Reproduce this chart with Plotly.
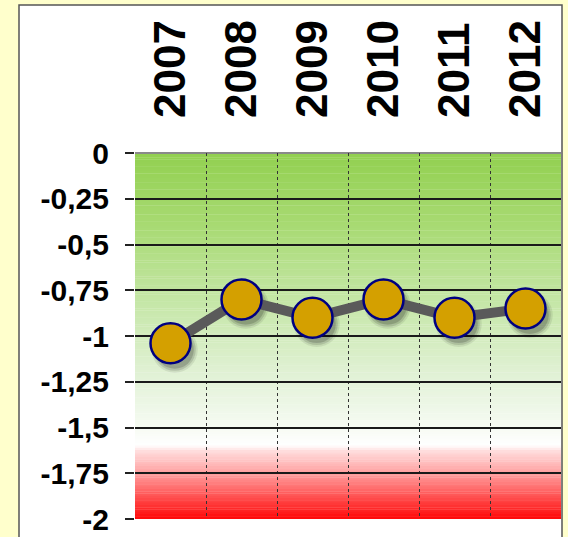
import plotly.graph_objects as go

years = ["2007", "2008", "2009", "2010", "2011", "2012"]
values = [-1.04, -0.80, -0.90, -0.80, -0.90, -0.85]
y_ticks = [0, -0.25, -0.5, -0.75, -1, -1.25, -1.5, -1.75, -2]
y_tick_labels = ["0", "-0,25", "-0,5", "-0,75", "-1", "-1,25", "-1,5", "-1,75", "-2"]

W, H = 568, 537
ML, MR, MT, MB = 135, 7, 153, 18
pw, ph = W - ML - MR, H - MT - MB

xs = list(range(len(years)))

# background gradient stops (value, rgb)
stops = [
    (0.0, (146, 208, 80)),
    (-0.4, (168, 218, 115)),
    (-0.8, (196, 230, 165)),
    (-1.2, (224, 241, 212)),
    (-1.5, (246, 251, 243)),
    (-1.6, (255, 255, 255)),
    (-1.63, (255, 222, 222)),
    (-1.75, (255, 160, 160)),
    (-2.0, (255, 8, 8)),
]

def col_at(v):
    for (a, ca), (b, cb) in zip(stops[:-1], stops[1:]):
        if b <= v <= a:
            t = (a - v) / (a - b) if a != b else 0
            c = [round(ca[i] + (cb[i] - ca[i]) * t) for i in range(3)]
            return f"rgb({c[0]},{c[1]},{c[2]})"
    return "white"

shapes = []
# white panel
shapes.append(dict(type="rect", xref="paper", yref="paper",
                   x0=(19 - ML) / pw, x1=(562 - ML) / pw,
                   y0=(H - 560 - MB) / ph, y1=(H - 5 - MB) / ph,
                   fillcolor="white", line=dict(color="#555555", width=1.5),
                   layer="below"))
N = 160
for i in range(N):
    y1 = -2.0 * i / N
    y0 = -2.0 * (i + 1) / N
    shapes.append(dict(type="rect", xref="paper", yref="y", x0=0, x1=1,
                       y0=y0, y1=y1 + 0.002, fillcolor=col_at((y0 + y1) / 2),
                       line=dict(width=0), layer="below"))
# grey top edge of the plot area
shapes.append(dict(type="line", xref="paper", yref="paper", x0=0, x1=1, y0=1, y1=1,
                   line=dict(color="#8a8a8a", width=2), layer="between"))

fig = go.Figure()
# soft shadow
for k, (sz, op) in enumerate([(46, 0.08), (42, 0.12), (38, 0.16)]):
    fig.add_trace(go.Scatter(x=[x + 0.06 for x in xs], y=[v - 0.035 for v in values],
                             mode="markers", hoverinfo="skip", showlegend=False,
                             marker=dict(size=sz, color=f"rgba(0,0,0,{op})", line=dict(width=0))))
fig.add_trace(go.Scatter(x=xs, y=values, mode="lines+markers", showlegend=False,
                         line=dict(color="rgb(90,90,90)", width=10),
                         marker=dict(size=40, color="rgb(212,160,0)",
                                     line=dict(color="rgb(0,0,128)", width=2.5))))

font = dict(family="Liberation Sans, Arial, sans-serif", color="black", weight=700)

fig.update_layout(
    width=W, height=H,
    margin=dict(l=ML, r=MR, t=MT, b=MB, pad=0, autoexpand=False),
    paper_bgcolor="rgb(255,255,204)",
    plot_bgcolor="rgba(0,0,0,0)",
    shapes=shapes,
    showlegend=False,
    xaxis=dict(range=[-0.5, 5.5], side="top", tickmode="array", tickvals=xs, ticktext=years,
               tickangle=-90, tickfont=dict(size=44, **font), ticks="", showgrid=False,
               zeroline=False, ticklabelstandoff=34, ticklabeloverflow="allow", automargin=False,
               minor=dict(tickmode="array", tickvals=[x - 0.5 for x in xs] + [5.5],
                          showgrid=True, gridcolor="#333333", gridwidth=1, griddash="dot", ticks=""),
               showline=False, fixedrange=True),
    yaxis=dict(range=[-2, 0], tickmode="array", tickvals=y_ticks, ticktext=y_tick_labels,
               tickfont=dict(size=30, **font), ticks="outside", ticklen=9, tickcolor="#222222",
               tickwidth=1.5, showgrid=True, gridcolor="#1a1a1a", gridwidth=1.5, zeroline=False,
               ticklabelstandoff=10, ticklabeloverflow="allow", automargin=False,
               showline=False, fixedrange=True),
)

fig.write_html("out.html", config={"displayModeBar": False},
               post_script="document.body.style.margin='0';document.body.style.overflow='hidden';document.body.style.background='rgb(255,255,204)';")
